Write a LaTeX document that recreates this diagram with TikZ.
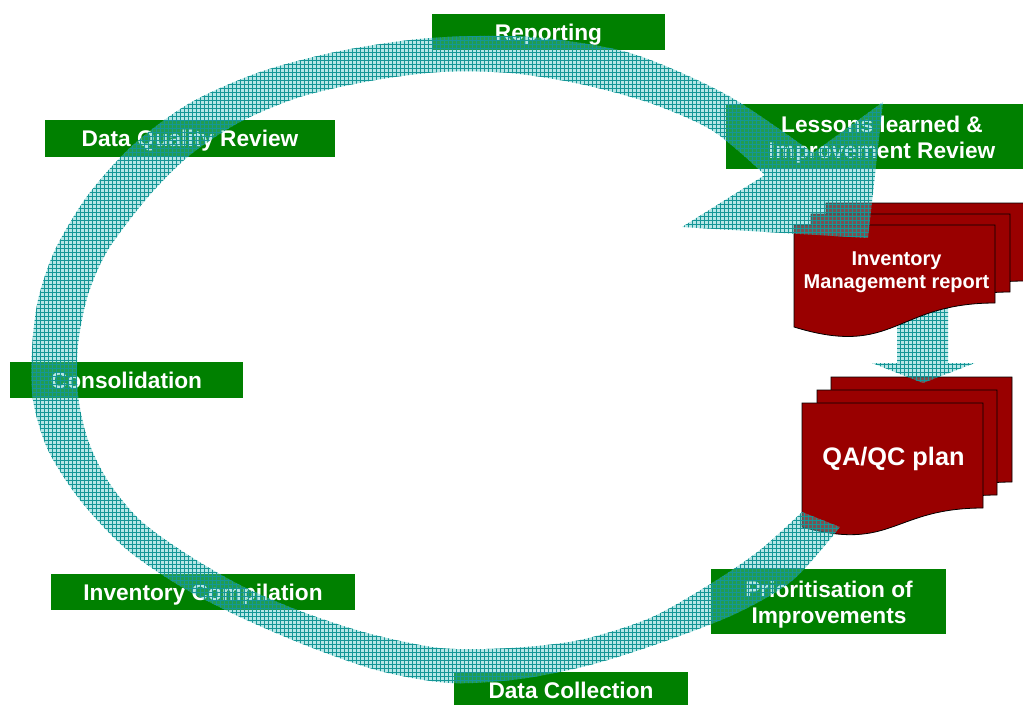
\documentclass[tikz,border=0pt]{standalone}
\usepackage{fontspec}
\setmainfont{Liberation Sans}
\usetikzlibrary{patterns}
\definecolor{stagegreen}{RGB}{0,128,0}
\definecolor{docred}{RGB}{153,0,0}
\definecolor{ringteal}{RGB}{80,195,195}
\definecolor{gridteal}{RGB}{20,150,150}
\tikzset{
  stagebox/.style={fill=stagegreen},
  lbl/.style={text=white, font=\bfseries\fontsize{17}{19.5}\selectfont, align=center, inner sep=0pt, anchor=base},
  sheet/.style={fill=docred, draw=black, line width=0.6pt},
  ring/.style={fill=ringteal, fill opacity=0.42, postaction={pattern=grid, pattern color=gridteal, fill opacity=0.32}},
}
\begin{document}
\begin{tikzpicture}[x=0.75pt,y=-0.75pt]
\clip (0,0) rectangle (1023,704);
% stages of the cycle
\fill[stagebox] (432,14) rectangle (665,50);
\node[lbl] (rep) at (548.5,40) {Reporting};
\fill[stagebox] (45,120) rectangle (335,157);
\node[lbl] (dqr) at (190,146) {Data Quality Review};
\fill[stagebox] (726,104) rectangle (1040,169);
\node[lbl] (lessons) at (882,158) {Lessons learned \&\\Improvement Review};
\fill[stagebox] (10,362) rectangle (243,398);
\node[lbl] (consol) at (126.5,388) {Consolidation};
\fill[stagebox] (51,574) rectangle (355,610);
\node[lbl] (compil) at (203,600) {Inventory Compilation};
\fill[stagebox] (711,569) rectangle (946,634);
\node[lbl] (prior) at (829,623) {Prioritisation of\\Improvements};
\fill[stagebox] (454,672) rectangle (688,708);
\node[lbl] (collect) at (571,698) {Data Collection};
% QA/QC plan (three sheets)
\foreach \l/\t/\r/\b in {831/377/1012/482, 817/390/997/495, 802/403/983/508}
  \filldraw[sheet] (\l,\t) -- (\r,\t) -- (\r,\b) .. controls ({(\l+\r)/2},\b) and ({(\l+\r)/2},{\b+44}) .. (\l,{\b+19}) -- cycle;
\node[lbl, font=\bfseries\fontsize{19}{22}\selectfont] (qaqc) at (893.5,465) {QA/QC plan};
% arrow between the documents
\fill[ring] (897,300) -- (948,300) -- (948,363) -- (975,363) -- (923,383) -- (872,363) -- (897,363) -- cycle;
% Inventory Management report (three sheets)
\foreach \l/\t/\r/\b in {826/203/1024/281, 811/214/1010/292, 794/225/995/303}
  \filldraw[sheet] (\l,\t) -- (\r,\t) -- (\r,\b) .. controls ({(\l+\r)/2},\b) and ({(\l+\r)/2},{\b+55}) .. (\l,{\b+24}) -- cycle;
\node[lbl, font=\bfseries\fontsize{15}{17.25}\selectfont] (imr) at (896.5,288) {Inventory\\Management report};
% the cycle arrow
\fill[ring] plot[smooth] coordinates {(840,527) (793,580) (735,614) (660,643) (590,665) (520,679) (450,683) (380,671) (310,647) (240,617) (180,586) (125,548) (80,500) (48,450) (33,400) (32,350) (38,300) (55,250) (88,195) (133,145) (190,103) (260,72) (340,51) (430,38) (530,37) (630,53) (727,95) (813,153)}
  -- (883,102) -- (868,238) -- (682,227)
  -- plot[smooth] coordinates {(765,175) (713,131) (650,103) (580,84) (510,73) (440,72) (370,81) (300,97) (240,122) (190,155) (148,197) (108,250) (88,295) (78,345) (78,395) (88,440) (108,481) (140,520) (185,553) (240,585) (300,611) (367,633) (440,648) (510,648) (580,640) (650,618) (712,583) (760,550) (802,512)}
  -- cycle;
\end{tikzpicture}
\end{document}
